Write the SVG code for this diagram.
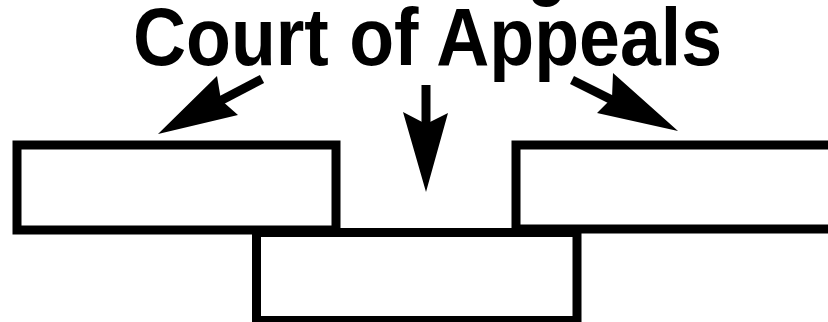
<svg xmlns="http://www.w3.org/2000/svg" width="828" height="322" viewBox="0 0 828 322">
  <style>
    .box { fill: #ffffff; stroke: #000000; stroke-width: 9; }
    .title { font-family: "Liberation Sans", Arial, sans-serif; font-weight: bold; font-size: 81px; fill: #000000; }
    .shaft { stroke: #000000; stroke-width: 9; fill: none; }
    .head { fill: #000000; stroke: none; }
  </style>
  <rect x="0" y="0" width="828" height="322" fill="#ffffff"/>
  <text class="title" x="527" y="-10" textLength="40" lengthAdjust="spacingAndGlyphs">g</text>
  <g id="title-node">
    <text class="title" x="133" y="65" textLength="589" lengthAdjust="spacingAndGlyphs">Court of Appeals</text>
  </g>
  <g id="bottom-box">
    <rect class="box" x="256.5" y="232.5" width="320.5" height="88"/>
  </g>
  <g id="left-box">
    <rect class="box" x="17" y="145" width="319" height="85"/>
  </g>
  <g id="right-box">
    <rect class="box" x="516" y="145" width="330" height="84"/>
  </g>
  <g id="connectors">
    <line class="shaft" x1="262" y1="79" x2="218" y2="102"/>
    <polygon class="head" points="158,134 217,76 221,100 238,115"/>
    <line class="shaft" x1="426" y1="85" x2="426" y2="126"/>
    <polygon class="head" points="426,192 403,112 426,124 448,113"/>
    <line class="shaft" x1="572" y1="80" x2="620" y2="104"/>
    <polygon class="head" points="678,131 613,73 612,98 597,113"/>
  </g>
</svg>
